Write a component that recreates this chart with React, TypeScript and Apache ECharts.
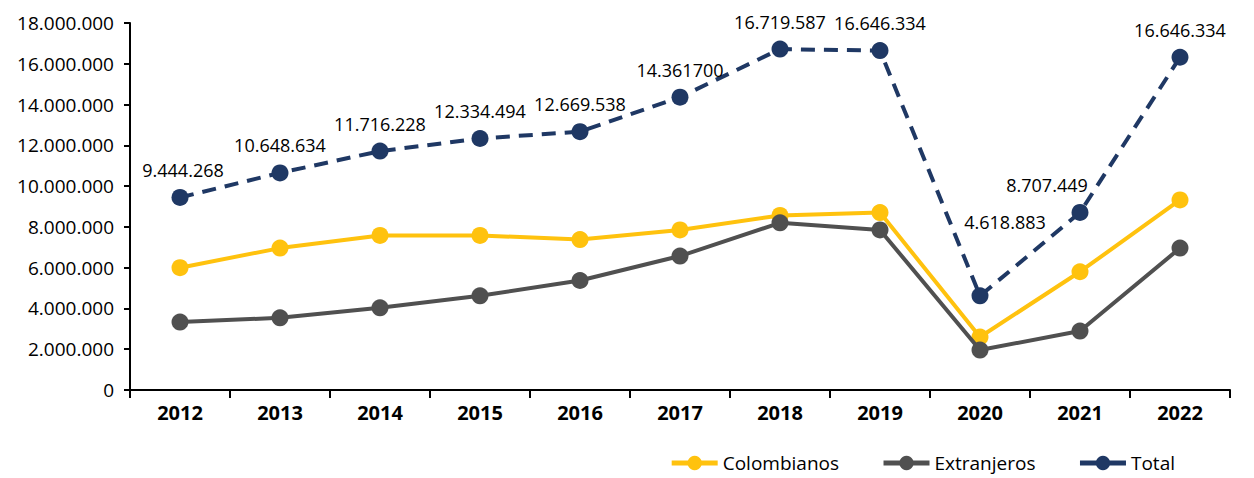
import React, { useEffect, useRef } from "react";
import * as echarts from "echarts";

const years = ["2012", "2013", "2014", "2015", "2016", "2017", "2018", "2019", "2020", "2021", "2022"];
const colombianos = [6000000, 6960000, 7580000, 7580000, 7380000, 7850000, 8560000, 8700000, 2600000, 5800000, 9320000];
const extranjeros = [3330000, 3540000, 4030000, 4620000, 5370000, 6570000, 8200000, 7850000, 1960000, 2890000, 6960000];
const total = [9444268, 10648634, 11716228, 12334494, 12669538, 14361700, 16719587, 16646334, 4618883, 8707449, 16320000];
const totalLabels = ["9.444.268", "10.648.634", "11.716.228", "12.334.494", "12.669.538", "14.361700", "16.719.587", "16.646.334", "4.618.883", "8.707.449", "16.646.334"];
const yTicks = { min: 0, max: 18000000, interval: 2000000 };

const FONT = "'Open Sans', sans-serif";

function fmt(v: number): string {
  return String(Math.round(v)).replace(/\B(?=(\d{3})+(?!\d))/g, ".");
}

export default function App() {
  const ref = useRef<HTMLDivElement>(null);
  useEffect(() => {
    if (!ref.current) return;
    const chart = echarts.init(ref.current, undefined, { renderer: "svg" });
    const labelOffsets: Record<number, number[]> = {
      8: [25, -46],
      9: [-33, 0],
      0: [3, 0],
    };
    chart.setOption({
      animation: false,
      textStyle: { fontFamily: FONT },
      grid: { left: 122, right: 16, top: 15, bottom: 88, containLabel: false },
      legend: {
        right: 66,
        top: 440,
        itemWidth: 46,
        itemHeight: 18,
        itemGap: 42,
        lineStyle: { type: "solid", width: 5 },
        textStyle: { fontSize: 19, lineHeight: 20, color: "#000", fontFamily: FONT },
        data: ["Colombianos", "Extranjeros", "Total"],
      },
      xAxis: {
        type: "category",
        data: years,
        boundaryGap: true,
        axisLine: { lineStyle: { color: "#000", width: 2 } },
        axisTick: { show: true, length: 8, lineStyle: { color: "#000", width: 2 } },
        axisLabel: { color: "#000", fontWeight: "bold", fontSize: 20, margin: 12, fontFamily: FONT },
      },
      yAxis: {
        type: "value",
        min: yTicks.min,
        max: yTicks.max,
        interval: yTicks.interval,
        splitLine: { show: false },
        axisLine: { show: true, lineStyle: { color: "#000", width: 2 } },
        axisTick: { show: true, length: 6, lineStyle: { color: "#000", width: 2 } },
        axisLabel: { color: "#000", fontSize: 19, margin: 16, formatter: (v: number) => fmt(v), fontFamily: FONT },
      },
      series: [
        {
          name: "Colombianos",
          type: "line",
          data: colombianos,
          symbol: "circle",
          symbolSize: 17,
          itemStyle: { color: "#FFC20E" },
          lineStyle: { color: "#FFC20E", width: 4 },
          z: 3,
        },
        {
          name: "Extranjeros",
          type: "line",
          data: extranjeros,
          symbol: "circle",
          symbolSize: 17,
          itemStyle: { color: "#505050" },
          lineStyle: { color: "#505050", width: 4 },
          z: 4,
        },
        {
          name: "Total",
          type: "line",
          data: total.map((v, i) => ({
            value: v,
            label: labelOffsets[i] ? { offset: labelOffsets[i] } : undefined,
          })),
          symbol: "circle",
          symbolSize: 17,
          itemStyle: { color: "#1F3864" },
          lineStyle: { color: "#1F3864", width: 4, type: [14, 9] },
          label: {
            show: true,
            position: "top",
            distance: 10,
            color: "#000",
            fontSize: 18,
            fontFamily: FONT,
            formatter: (p: any) => totalLabels[p.dataIndex],
          },
          z: 5,
        },
      ],
    });
    return () => chart.dispose();
  }, []);
  return <div ref={ref} style={{ width: 1238, height: 470 }} />;
}
